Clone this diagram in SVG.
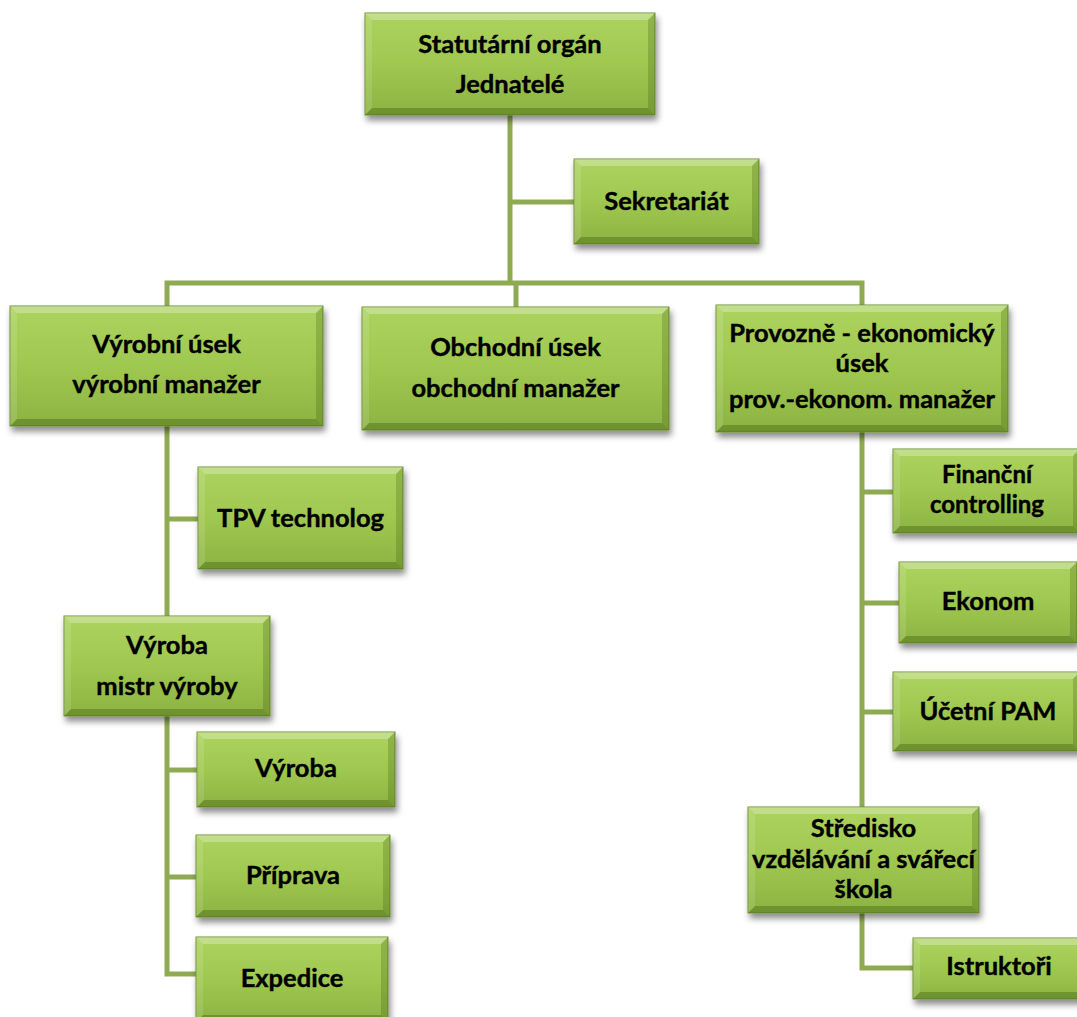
<svg xmlns="http://www.w3.org/2000/svg" width="1077" height="1017" viewBox="0 0 1077 1017">
<defs>
<linearGradient id="fillG" x1="0" y1="0" x2="0" y2="1">
<stop offset="0" stop-color="#add35f"/>
<stop offset="0.5" stop-color="#9fc850"/>
<stop offset="1" stop-color="#8cb342"/>
</linearGradient>
<filter id="sh" x="-10%" y="-10%" width="125%" height="135%">
<feDropShadow dx="2" dy="5" stdDeviation="3" flood-color="#000" flood-opacity="0.45"/>
</filter>
</defs>
<style>
.box{fill:url(#fillG);stroke:#6f8f35;stroke-width:1;filter:url(#sh)}
.bt{fill:#ffffff;fill-opacity:0.28}
.bb{fill:#2f4a05;fill-opacity:0.32}
.bl{fill:#ffffff;fill-opacity:0.12}
.br{fill:#2f4a05;fill-opacity:0.22}
.t{font-family:Lato,"Open Sans","Liberation Sans",sans-serif;font-weight:700;font-size:25.5px;fill:#000;text-anchor:middle;stroke:#000;stroke-width:0.4}
.s{font-size:24px}
.c{fill:none;stroke:#8eaa52;stroke-width:5}
</style>
<rect width="1077" height="1017" fill="#ffffff"/>
<g id="connectors">
<path class="c" d="M510,115 V283 M510,202 H574 M167,306 V283 H862 V305 M516,283 V307"/>
<path class="c" d="M167,426 V616 M167,519 H198 M167,716 V974 H196 M167,770 H197 M167,877 H196"/>
<path class="c" d="M862,432 V807 M862,492 H893 M862,603 H899 M862,712 H893 M862,913 V968 H913"/>
</g>
<g id="n-statutarni">
<rect class="box" x="365" y="13" width="290" height="102"/>
<polygon class="bt" points="365,13 655,13 648,20 372,20"/>
<polygon class="bb" points="365,115 655,115 648,108 372,108"/>
<polygon class="bl" points="365,13 372,20 372,108 365,115"/>
<polygon class="br" points="655,13 648,20 648,108 655,115"/>
<text class="t" x="510" y="53">Statutární orgán</text>
<text class="t" x="510" y="93">Jednatelé</text>
</g>
<g id="n-sekretariat">
<rect class="box" x="574" y="159" width="185" height="85"/>
<polygon class="bt" points="574,159 759,159 752,166 581,166"/>
<polygon class="bb" points="574,244 759,244 752,237 581,237"/>
<polygon class="bl" points="574,159 581,166 581,237 574,244"/>
<polygon class="br" points="759,159 752,166 752,237 759,244"/>
<text class="t" x="666.5" y="210">Sekretariát</text>
</g>
<g id="n-vyrobni">
<rect class="box" x="10" y="306" width="313" height="120"/>
<polygon class="bt" points="10,306 323,306 316,313 17,313"/>
<polygon class="bb" points="10,426 323,426 316,419 17,419"/>
<polygon class="bl" points="10,306 17,313 17,419 10,426"/>
<polygon class="br" points="323,306 316,313 316,419 323,426"/>
<text class="t" x="166.5" y="353">Výrobní úsek</text>
<text class="t" x="166.5" y="393">výrobní manažer</text>
</g>
<g id="n-obchodni">
<rect class="box" x="362" y="307" width="307" height="123"/>
<polygon class="bt" points="362,307 669,307 662,314 369,314"/>
<polygon class="bb" points="362,430 669,430 662,423 369,423"/>
<polygon class="bl" points="362,307 369,314 369,423 362,430"/>
<polygon class="br" points="669,307 662,314 662,423 669,430"/>
<text class="t" x="515.5" y="356">Obchodní úsek</text>
<text class="t" x="515.5" y="397">obchodní manažer</text>
</g>
<g id="n-provozne">
<rect class="box" x="716" y="305" width="292" height="127"/>
<polygon class="bt" points="716,305 1008,305 1001,312 723,312"/>
<polygon class="bb" points="716,432 1008,432 1001,425 723,425"/>
<polygon class="bl" points="716,305 723,312 723,425 716,432"/>
<polygon class="br" points="1008,305 1001,312 1001,425 1008,432"/>
<text class="t" x="862" y="342">Provozně - ekonomický</text>
<text class="t" x="862" y="372">úsek</text>
<text class="t" x="862" y="408">prov.-ekonom. manažer</text>
</g>
<g id="n-tpv">
<rect class="box" x="198" y="467" width="205" height="102"/>
<polygon class="bt" points="198,467 403,467 396,474 205,474"/>
<polygon class="bb" points="198,569 403,569 396,562 205,562"/>
<polygon class="bl" points="198,467 205,474 205,562 198,569"/>
<polygon class="br" points="403,467 396,474 396,562 403,569"/>
<text class="t" x="300.5" y="527">TPV technolog</text>
</g>
<g id="n-mistr">
<rect class="box" x="64" y="616" width="206" height="100"/>
<polygon class="bt" points="64,616 270,616 263,623 71,623"/>
<polygon class="bb" points="64,716 270,716 263,709 71,709"/>
<polygon class="bl" points="64,616 71,623 71,709 64,716"/>
<polygon class="br" points="270,616 263,623 263,709 270,716"/>
<text class="t" x="167" y="654">Výroba</text>
<text class="t" x="167" y="695">mistr výroby</text>
</g>
<g id="n-vyroba">
<rect class="box" x="197" y="732" width="198" height="75"/>
<polygon class="bt" points="197,732 395,732 388,739 204,739"/>
<polygon class="bb" points="197,807 395,807 388,800 204,800"/>
<polygon class="bl" points="197,732 204,739 204,800 197,807"/>
<polygon class="br" points="395,732 388,739 388,800 395,807"/>
<text class="t" x="296" y="777">Výroba</text>
</g>
<g id="n-priprava">
<rect class="box" x="196" y="835" width="194" height="82"/>
<polygon class="bt" points="196,835 390,835 383,842 203,842"/>
<polygon class="bb" points="196,917 390,917 383,910 203,910"/>
<polygon class="bl" points="196,835 203,842 203,910 196,917"/>
<polygon class="br" points="390,835 383,842 383,910 390,917"/>
<text class="t" x="293" y="884">Příprava</text>
</g>
<g id="n-expedice">
<rect class="box" x="196" y="937" width="192" height="85"/>
<polygon class="bt" points="196,937 388,937 381,944 203,944"/>
<polygon class="bb" points="196,1022 388,1022 381,1015 203,1015"/>
<polygon class="bl" points="196,937 203,944 203,1015 196,1022"/>
<polygon class="br" points="388,937 381,944 381,1015 388,1022"/>
<text class="t" x="292" y="987">Expedice</text>
</g>
<g id="n-financni">
<rect class="box" x="893" y="449" width="187" height="84"/>
<polygon class="bt" points="893,449 1080,449 1073,456 900,456"/>
<polygon class="bb" points="893,533 1080,533 1073,526 900,526"/>
<polygon class="bl" points="893,449 900,456 900,526 893,533"/>
<polygon class="br" points="1080,449 1073,456 1073,526 1080,533"/>
<text class="t s" x="987" y="483">Finanční</text>
<text class="t s" x="987" y="513">controlling</text>
</g>
<g id="n-ekonom">
<rect class="box" x="899" y="562" width="178" height="81"/>
<polygon class="bt" points="899,562 1077,562 1070,569 906,569"/>
<polygon class="bb" points="899,643 1077,643 1070,636 906,636"/>
<polygon class="bl" points="899,562 906,569 906,636 899,643"/>
<polygon class="br" points="1077,562 1070,569 1070,636 1077,643"/>
<text class="t" x="988" y="610">Ekonom</text>
</g>
<g id="n-ucetni">
<rect class="box" x="893" y="672" width="187" height="79"/>
<polygon class="bt" points="893,672 1080,672 1073,679 900,679"/>
<polygon class="bb" points="893,751 1080,751 1073,744 900,744"/>
<polygon class="bl" points="893,672 900,679 900,744 893,751"/>
<polygon class="br" points="1080,672 1073,679 1073,744 1080,751"/>
<text class="t" x="988" y="720">Účetní PAM</text>
</g>
<g id="n-stredisko">
<rect class="box" x="748" y="807" width="231" height="106"/>
<polygon class="bt" points="748,807 979,807 972,814 755,814"/>
<polygon class="bb" points="748,913 979,913 972,906 755,906"/>
<polygon class="bl" points="748,807 755,814 755,906 748,913"/>
<polygon class="br" points="979,807 972,814 972,906 979,913"/>
<text class="t" x="863.5" y="837">Středisko</text>
<text class="t" x="863.5" y="868">vzdělávání a svářecí</text>
<text class="t" x="863.5" y="898">škola</text>
</g>
<g id="n-istruktori">
<rect class="box" x="913" y="938" width="172" height="61"/>
<polygon class="bt" points="913,938 1085,938 1078,945 920,945"/>
<polygon class="bb" points="913,999 1085,999 1078,992 920,992"/>
<polygon class="bl" points="913,938 920,945 920,992 913,999"/>
<polygon class="br" points="1085,938 1078,945 1078,992 1085,999"/>
<text class="t" x="999" y="975">Istruktoři</text>
</g>
</svg>
